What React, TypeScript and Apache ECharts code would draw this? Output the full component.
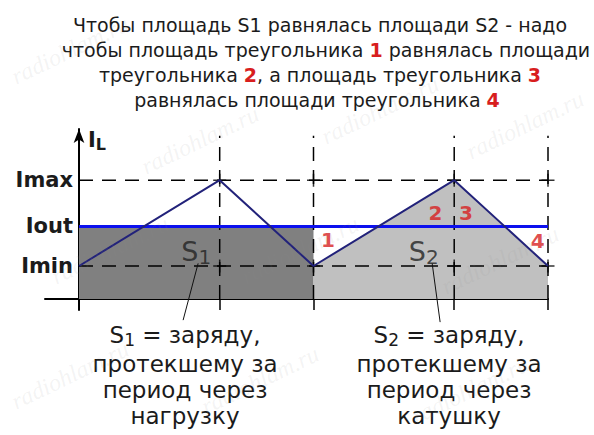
import { useEffect, useRef } from "react";
import * as echarts from "echarts";

// Current levels of the inductor (arbitrary units)
const I_MIN = 1.0;
const I_OUT = 2.2;
const I_MAX = 3.6;

// Time marks: start, peak, valley, peak, valley
const T_POINTS = [0, 3, 5, 8, 10];
const IL_VALUES = [I_MIN, I_MAX, I_MIN, I_MAX, I_MIN];

const LEVEL_VALUES = [I_MIN, I_OUT, I_MAX];
const LEVEL_NAMES = ["Imin", "Iout", "Imax"];

const PERIOD_MARKS = [3, 5, 8, 10];
const DASH_TOP = 4.95;

// Triangle numbers inside the waveform
const TRIANGLE_LABELS = ["1", "2", "3", "4"];
const TRIANGLE_POS: [number, number][] = [
  [5.31, 1.8],
  [7.6, 2.6],
  [8.25, 2.6],
  [9.78, 1.75],
];

// Area labels and their leader lines
const AREA_LABELS = ["{s|S}{sub|1}", "{s|S}{sub|2}"];
const AREA_POS: [number, number][] = [
  [2.5, 1.45],
  [7.35, 1.45],
];
const LEADERS: [number, number][][] = [
  [
    [2.54, 1.08],
    [2.22, -0.64],
  ],
  [
    [7.53, 1.08],
    [7.7, -0.7],
  ],
];

const TITLE_LINES = [
  "Чтобы площадь S1 равнялась площади S2 - надо",
  "чтобы площадь треугольника {r|1} равнялась площади",
  "треугольника {r|2}, а площадь треугольника {r|3}",
  "равнялась площади треугольника {r|4}",
];
const TITLE_X = [320, 326, 320, 317];

const NOTE_LEFT = ["{s|S}{sub|1} = заряду,", "протекшему за", "период через", "нагрузку"];
const NOTE_RIGHT = ["{s|S}{sub|2} = заряду,", "протекшему за", "период через", "катушку"];
const NOTE_Y = [335, 364, 390, 416];

const WATERMARK = "radiohlam.ru";
const WATERMARK_POS: [number, number][] = [
  [70, 50],
  [200, 140],
  [380, 110],
  [525, 125],
  [110, 250],
  [300, 250],
  [500, 260],
  [70, 375],
  [260, 380],
  [470, 390],
];

const FONT = "DejaVu Sans";
const TEXT_COLOR = "#1b1b1b";

export default function App() {
  const ref = useRef<HTMLDivElement>(null);

  useEffect(() => {
    if (!ref.current) return;
    const chart = echarts.init(ref.current, undefined, { renderer: "svg" });

    const crossPoints: [number, number][] = [];
    PERIOD_MARKS.forEach((t) => {
      crossPoints.push([t, I_MIN]);
      crossPoints.push([t, I_MAX]);
    });

    const textGraphics: any[] = [];
    TITLE_LINES.forEach((line, i) => {
      textGraphics.push({
        type: "text",
        x: TITLE_X[i],
        y: 25 + i * 25,
        style: {
          text: line,
          fill: TEXT_COLOR,
          font: `19px "${FONT}"`,
          lineHeight: 23,
          align: "center",
          verticalAlign: "middle",
          rich: {
            r: { fill: "#d81e1e", fontWeight: "bold", fontSize: 19, fontFamily: FONT, lineHeight: 23 },
          },
        },
      });
    });

    // subscript: short line box pushed down by top padding
    const noteRich = {
      s: { fontSize: 23, fontFamily: FONT, fill: TEXT_COLOR, lineHeight: 25 },
      sub: {
        fontSize: 17,
        fontFamily: FONT,
        fill: TEXT_COLOR,
        lineHeight: 15,
        padding: [10, 0, 0, 0],
      },
    };
    const notes = (lines: string[], cx: number) =>
      lines.forEach((line, i) => {
        textGraphics.push({
          type: "text",
          x: cx,
          y: NOTE_Y[i],
          style: {
            text: line,
            fill: TEXT_COLOR,
            font: `23px "${FONT}"`,
            lineHeight: 25,
            align: "center",
            verticalAlign: "middle",
            rich: noteRich,
          },
        });
      });
    notes(NOTE_LEFT, 185);
    notes(NOTE_RIGHT, 449);

    // I_L axis caption
    textGraphics.push({
      type: "text",
      x: 88,
      y: 140,
      style: {
        text: "{i|I}{l|L}",
        verticalAlign: "middle",
        rich: {
          i: { fontSize: 21, fontWeight: "bold", fontFamily: FONT, fill: TEXT_COLOR },
          l: {
            fontSize: 16,
            fontWeight: "bold",
            fontFamily: FONT,
            fill: TEXT_COLOR,
            padding: [8, 0, 0, 0],
          },
        },
      },
    });

    WATERMARK_POS.forEach(([x, y]) => {
      textGraphics.push({
        type: "text",
        x,
        y,
        rotation: 0.45,
        z: 100,
        style: {
          text: WATERMARK,
          fill: "rgba(140,140,140,0.1)",
          font: `italic 24px "Liberation Serif"`,
          align: "center",
          verticalAlign: "middle",
        },
      });
    });

    const dashed = { color: "#000", width: 1.5, type: [14, 9] as number[] };

    const series: any[] = [
      {
        type: "line",
        name: "S1 area",
        data: [
          [0, I_OUT],
          [5, I_OUT],
        ],
        symbol: "none",
        lineStyle: { width: 0 },
        areaStyle: { color: "#808080", opacity: 1 },
        z: 1,
      },
      {
        type: "line",
        name: "S2 area",
        data: T_POINTS.slice(2).map((t, i) => [t, IL_VALUES[i + 2]]),
        symbol: "none",
        lineStyle: { width: 0 },
        areaStyle: { color: "#c0c0c0", opacity: 1 },
        z: 1,
      },
      ...[I_MIN, I_MAX].map((v) => ({
        type: "line",
        data: [
          [0, v],
          [10, v],
        ],
        symbol: "none",
        lineStyle: dashed,
        z: 2,
      })),
      ...PERIOD_MARKS.map((t) => ({
        type: "line",
        data: [
          [t, 0],
          [t, DASH_TOP],
        ],
        symbol: "none",
        lineStyle: dashed,
        z: 2,
      })),
      {
        type: "scatter",
        data: crossPoints,
        symbol: "path://M0,6H12M6,0V12",
        symbolSize: 13,
        itemStyle: { color: "transparent", borderColor: "#000", borderWidth: 1.5 },
        z: 3,
      },
      {
        type: "line",
        name: "Iout",
        data: [
          [0, I_OUT],
          [10, I_OUT],
        ],
        symbol: "none",
        lineStyle: { color: "#0c10ee", width: 3 },
        z: 4,
      },
      {
        type: "line",
        name: "IL",
        data: T_POINTS.map((t, i) => [t, IL_VALUES[i]]),
        symbol: "none",
        lineStyle: { color: "#22227a", width: 2 },
        z: 5,
      },
      ...LEADERS.map((pts) => ({
        type: "line",
        data: pts,
        symbol: "none",
        clip: false,
        lineStyle: { color: "#111", width: 1 },
        z: 5,
      })),
      {
        type: "scatter",
        data: AREA_POS.map((p, i) => ({
          value: p,
          label: { formatter: AREA_LABELS[i] },
        })),
        symbolSize: 0,
        label: {
          show: true,
          position: "inside",
          rich: {
            s: { fontSize: 27, fontFamily: FONT, color: "#222" },
            sub: { fontSize: 20, fontFamily: FONT, color: "#222", padding: [12, 0, 0, 0] },
          },
        },
        z: 6,
      },
      {
        type: "scatter",
        data: TRIANGLE_POS.map((p, i) => ({
          value: p,
          label: { formatter: TRIANGLE_LABELS[i] },
        })),
        symbolSize: 0,
        label: {
          show: true,
          position: "inside",
          fontSize: 20,
          fontWeight: "bold",
          fontFamily: FONT,
          color: "#d81e1e",
        },
        z: 6,
      },
    ];

    chart.setOption({
      animation: false,
      backgroundColor: "#fff",
      grid: {
        left: 45,
        right: 46,
        top: 129,
        bottom: 125,
        containLabel: false,
        outerBoundsMode: "none",
      },
      xAxis: {
        type: "value",
        min: -0.725,
        max: 10,
        axisLine: { show: true, onZero: true, lineStyle: { color: "#000", width: 2 } },
        axisTick: {
          show: true,
          customValues: PERIOD_MARKS,
          length: 11,
          lineStyle: { color: "#000", width: 1.5 },
        },
        axisLabel: { show: false },
        splitLine: { show: false },
      },
      yAxis: {
        type: "value",
        min: -0.333,
        max: 5.152,
        axisLine: {
          show: true,
          onZero: true,
          symbol: ["none", "arrow"],
          symbolSize: [8, 14],
          lineStyle: { color: "#000", width: 2 },
        },
        axisTick: { show: false },
        splitLine: { show: false },
        axisLabel: {
          show: true,
          customValues: LEVEL_VALUES,
          formatter: (v: number) => LEVEL_NAMES[LEVEL_VALUES.indexOf(v)] ?? "",
          fontSize: 21,
          fontWeight: "bold",
          fontFamily: FONT,
          color: TEXT_COLOR,
          // labels sit left of the shifted (on-zero) axis line at x = 0
          margin: -28,
        },
      },
      series,
      graphic: textGraphics,
    });

    return () => chart.dispose();
  }, []);

  return (
    <div
      ref={ref}
      style={{ position: "fixed", left: 0, top: 0, width: 594, height: 435 }}
    />
  );
}
